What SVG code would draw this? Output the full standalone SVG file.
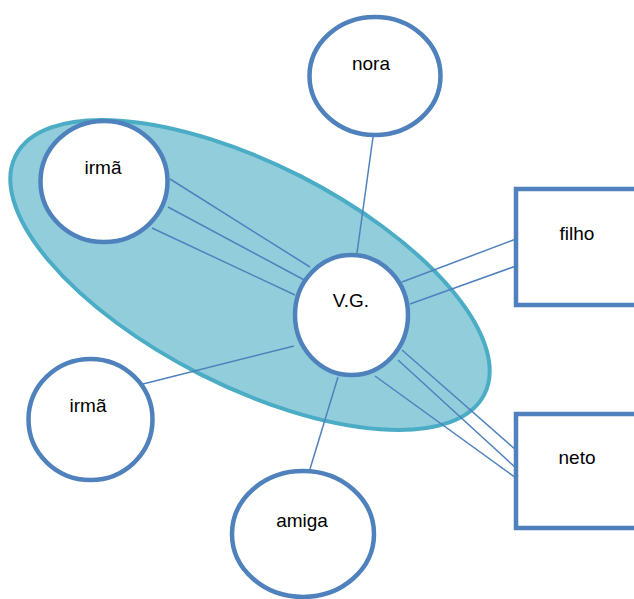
<svg xmlns="http://www.w3.org/2000/svg" width="634" height="599" viewBox="0 0 634 599">
<style>
.node{fill:#FFFFFF;stroke:#4F81BD;stroke-width:4.5}
.lbl{font-family:"Liberation Sans",Arial,sans-serif;font-size:19px;fill:#000000;text-anchor:middle}
.edge{stroke:#4F81BD;stroke-width:1.5;fill:none}
</style>
<rect width="634" height="599" fill="#FFFFFF"/>
<g id="group-ellipse">
<ellipse cx="250" cy="275" rx="263" ry="111" transform="rotate(27 250 275)" fill="#92CDDC" stroke="#4BACC6" stroke-width="4"/>
</g>
<g id="connectors">
<line class="edge" x1="170" y1="179" x2="310" y2="267"/>
<line class="edge" x1="168" y1="207" x2="308" y2="282"/>
<line class="edge" x1="152" y1="228" x2="295" y2="295"/>
<line class="edge" x1="373" y1="137" x2="357" y2="253"/>
<line class="edge" x1="402" y1="282" x2="516" y2="239"/>
<line class="edge" x1="410" y1="304" x2="516" y2="266"/>
<line class="edge" x1="143" y1="384" x2="294" y2="346"/>
<line class="edge" x1="338" y1="377" x2="310" y2="469"/>
<line class="edge" x1="402" y1="350" x2="516" y2="450"/>
<line class="edge" x1="398" y1="360" x2="516" y2="468"/>
<line class="edge" x1="375" y1="376" x2="516" y2="478"/>
</g>
<g id="node-irma1">
<ellipse class="node" cx="104" cy="181.5" rx="63.5" ry="60.5"/>
<text class="lbl" x="103" y="174">irmã</text>
</g>
<g id="node-nora">
<ellipse class="node" cx="375" cy="76" rx="65.5" ry="59"/>
<text class="lbl" x="371" y="70">nora</text>
</g>
<g id="node-vg">
<ellipse class="node" cx="351.5" cy="315" rx="56.5" ry="60"/>
<text class="lbl" x="351" y="307">V.G.</text>
</g>
<g id="node-filho">
<rect class="node" x="516" y="189" width="130" height="116"/>
<text class="lbl" x="577" y="240">filho</text>
</g>
<g id="node-neto">
<rect class="node" x="516" y="414" width="130" height="114"/>
<text class="lbl" x="577" y="464">neto</text>
</g>
<g id="node-irma2">
<ellipse class="node" cx="90.5" cy="419.5" rx="62" ry="60.5"/>
<text class="lbl" x="88" y="412">irmã</text>
</g>
<g id="node-amiga">
<ellipse class="node" cx="303" cy="534" rx="71" ry="63"/>
<text class="lbl" x="302" y="527">amiga</text>
</g>
</svg>
